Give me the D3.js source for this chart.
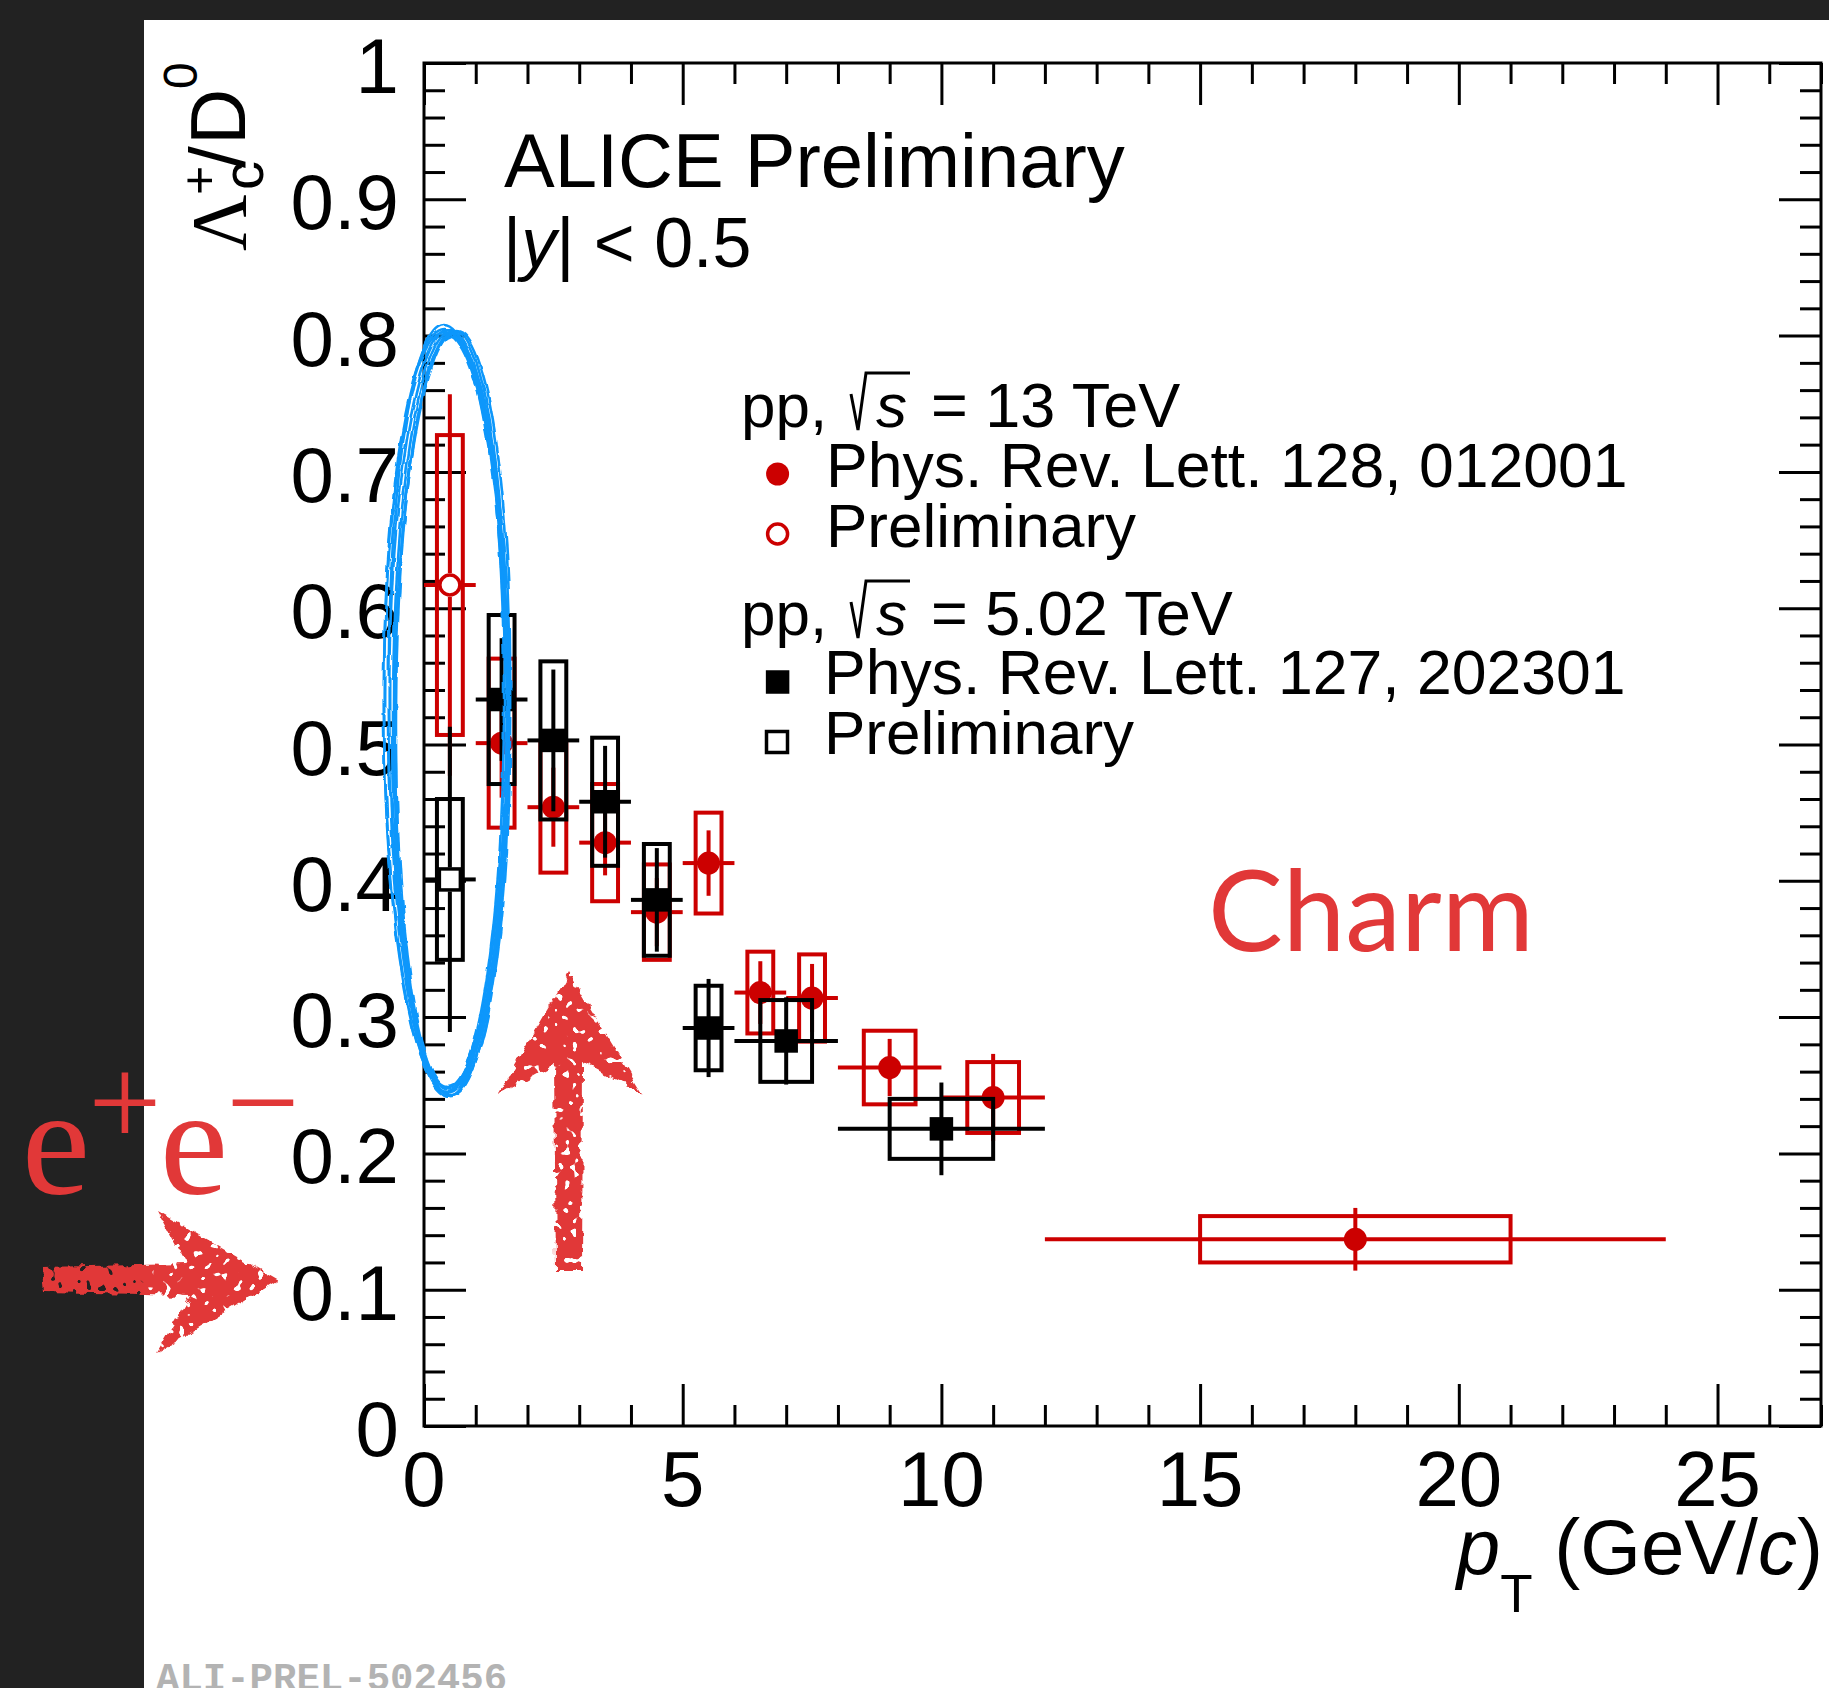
<!DOCTYPE html>
<html>
<head>
<meta charset="utf-8">
<script src="https://cdn.jsdelivr.net/npm/d3@7"></script>
<style>
  html, body { margin: 0; padding: 0; background: #fff; }
  svg { display: block; }
</style>
</head>
<body>
<svg id="chart" width="1829" height="1688"></svg>
<script>
// ---- Λc+/D0 ratio versus pT ----

// pp, √s = 13 TeV, published
const ptPub13    = [1.5, 2.5, 3.5, 4.5, 5.5, 6.5, 7.5, 9, 11, 18];
const binLoPub13 = [1, 2, 3, 4, 5, 6, 7, 8, 10, 12];
const binHiPub13 = [2, 3, 4, 5, 6, 7, 8, 10, 12, 24];
const ratioPub13 = [0.501, 0.454, 0.428, 0.377, 0.413, 0.318, 0.314, 0.263, 0.241, 0.137];
const statPub13  = [0.040, 0.029, 0.024, 0.025, 0.024, 0.023, 0.025, 0.021, 0.032, 0.023];
const systPub13  = [0.062, 0.048, 0.043, 0.035, 0.037, 0.030, 0.032, 0.027, 0.026, 0.017];

// pp, √s = 13 TeV, preliminary
const ptPrel13    = [0.5];
const binLoPrel13 = [0];
const binHiPrel13 = [1];
const ratioPrel13 = [0.617];
const statPrel13  = [0.140];
const systPrel13  = [0.110];

// pp, √s = 5.02 TeV, published
const ptPub5    = [1.5, 2.5, 3.5, 4.5, 5.5, 7, 10];
const binLoPub5 = [1, 2, 3, 4, 5, 6, 8];
const binHiPub5 = [2, 3, 4, 5, 6, 8, 12];
const ratioPub5 = [0.533, 0.503, 0.458, 0.386, 0.292, 0.2825, 0.218];
const statPub5  = [0.045, 0.052, 0.041, 0.038, 0.036, 0.032, 0.034];
const systPub5  = [0.062, 0.058, 0.047, 0.041, 0.031, 0.030, 0.022];

// pp, √s = 5.02 TeV, preliminary
const ptPrel5    = [0.5];
const binLoPrel5 = [0];
const binHiPrel5 = [1];
const ratioPrel5 = [0.401];
const statPrel5  = [0.112];
const systPrel5  = [0.059];

// axis ticks
const xTickValues = [0, 5, 10, 15, 20, 25];
const xTickLabels = ["0", "5", "10", "15", "20", "25"];
const yTickValues = [0, 0.1, 0.2, 0.3, 0.4, 0.5, 0.6, 0.7, 0.8, 0.9, 1];
const yTickLabels = ["0", "0.1", "0.2", "0.3", "0.4", "0.5", "0.6", "0.7", "0.8", "0.9", "1"];

// ---- layout ----
const W = 1829, H = 1688;
const X0 = 424, X1 = 1821, Y0 = 1426, Y1 = 63;
const RED = "#cc0000", BLACK = "#000000", NOTE = "#e13838";
const SANS = "'Liberation Sans', Arial, Helvetica, sans-serif";
const SERIF = "'Liberation Serif', 'Times New Roman', serif";

const x = d3.scaleLinear().domain([0, 27]).range([X0, X1]);
const y = d3.scaleLinear().domain([0, 1]).range([Y0, Y1]);

const svg = d3.select("#chart");

// background and dark page bands
svg.append("rect").attr("width", W).attr("height", H).attr("fill", "#fff");
svg.append("rect").attr("x", 0).attr("y", 0).attr("width", W).attr("height", 20).attr("fill", "#222");
svg.append("rect").attr("x", 0).attr("y", 0).attr("width", 144).attr("height", H).attr("fill", "#222");

const defs = svg.append("defs");
const rough = defs.append("filter").attr("id", "rough")
  .attr("x", "-10%").attr("y", "-10%").attr("width", "120%").attr("height", "120%");
rough.append("feTurbulence").attr("type", "fractalNoise").attr("baseFrequency", 0.09)
  .attr("numOctaves", 2).attr("seed", 4).attr("result", "noise");
rough.append("feDisplacementMap").attr("in", "SourceGraphic").attr("in2", "noise")
  .attr("scale", 10).attr("xChannelSelector", "R").attr("yChannelSelector", "G").attr("result", "disp");
rough.append("feTurbulence").attr("type", "fractalNoise").attr("baseFrequency", 0.14)
  .attr("numOctaves", 1).attr("seed", 11).attr("result", "spk");
rough.append("feColorMatrix").attr("in", "spk").attr("type", "matrix")
  .attr("values", "0 0 0 0 0  0 0 0 0 0  0 0 0 0 0  0 0 0 26 -16.5").attr("result", "holes");
rough.append("feComposite").attr("in", "disp").attr("in2", "holes").attr("operator", "out");

const sketch = defs.append("filter").attr("id", "sketch")
  .attr("x", "-20%").attr("y", "-5%").attr("width", "140%").attr("height", "110%");
sketch.append("feTurbulence").attr("type", "fractalNoise").attr("baseFrequency", 0.05)
  .attr("numOctaves", 2).attr("seed", 2).attr("result", "n2");
sketch.append("feDisplacementMap").attr("in", "SourceGraphic").attr("in2", "n2")
  .attr("scale", 5).attr("xChannelSelector", "R").attr("yChannelSelector", "G");

// ---- axes (ticks on all four sides, pointing inward) ----
const xMinor = d3.range(0, 28, 1).filter(v => v % 5 !== 0);
const yMinor = d3.range(0, 51, 1).map(i => i / 50).filter((v, i) => i % 5 !== 0);

function styleAxis(g) {
  g.select(".domain").remove();
  g.selectAll("line").attr("stroke", BLACK).attr("stroke-width", 3);
}
const axes = svg.append("g");
axes.append("g").attr("transform", `translate(0,${Y0})`)
  .call(d3.axisBottom(x).tickValues(xTickValues).tickSize(-42).tickSizeOuter(0).tickFormat("")).call(styleAxis);
axes.append("g").attr("transform", `translate(0,${Y0})`)
  .call(d3.axisBottom(x).tickValues(xMinor).tickSize(-21).tickSizeOuter(0).tickFormat("")).call(styleAxis);
axes.append("g").attr("transform", `translate(0,${Y1})`)
  .call(d3.axisTop(x).tickValues(xTickValues).tickSize(-42).tickSizeOuter(0).tickFormat("")).call(styleAxis);
axes.append("g").attr("transform", `translate(0,${Y1})`)
  .call(d3.axisTop(x).tickValues(xMinor).tickSize(-21).tickSizeOuter(0).tickFormat("")).call(styleAxis);
axes.append("g").attr("transform", `translate(${X0},0)`)
  .call(d3.axisLeft(y).tickValues(yTickValues).tickSize(-42).tickSizeOuter(0).tickFormat("")).call(styleAxis);
axes.append("g").attr("transform", `translate(${X0},0)`)
  .call(d3.axisLeft(y).tickValues(yMinor).tickSize(-21).tickSizeOuter(0).tickFormat("")).call(styleAxis);
axes.append("g").attr("transform", `translate(${X1},0)`)
  .call(d3.axisRight(y).tickValues(yTickValues).tickSize(-42).tickSizeOuter(0).tickFormat("")).call(styleAxis);
axes.append("g").attr("transform", `translate(${X1},0)`)
  .call(d3.axisRight(y).tickValues(yMinor).tickSize(-21).tickSizeOuter(0).tickFormat("")).call(styleAxis);

// frame
svg.append("rect").attr("x", X0).attr("y", Y1).attr("width", X1 - X0).attr("height", Y0 - Y1)
  .attr("fill", "none").attr("stroke", BLACK).attr("stroke-width", 3);

// tick labels
svg.append("g").selectAll("text").data(xTickValues).join("text")
  .attr("x", d => x(d)).attr("y", 1506).attr("text-anchor", "middle")
  .attr("font-family", SANS).attr("font-size", 78).text((d, i) => xTickLabels[i]);
svg.append("g").selectAll("text").data(yTickValues).join("text")
  .attr("x", 399).attr("y", d => y(d) + 30).attr("text-anchor", "end")
  .attr("font-family", SANS).attr("font-size", 78).text((d, i) => yTickLabels[i]);

// x-axis title
const xt = svg.append("text").attr("x", 1823).attr("y", 1574).attr("text-anchor", "end")
  .attr("font-family", SANS).attr("font-size", 78);
xt.append("tspan").attr("font-style", "italic").text("p");
xt.append("tspan").attr("font-size", 53).attr("dy", 38).text("T");
xt.append("tspan").attr("dy", -38).text(" (GeV/");
xt.append("tspan").attr("font-style", "italic").text("c");
xt.append("tspan").text(")");

// y-axis title, rotated
const yt = svg.append("g").attr("transform", "translate(245,0) rotate(-90)")
  .attr("font-family", SANS);
yt.append("text").attr("x", -251).attr("y", 0).attr("font-family", SERIF).attr("font-size", 78).text("Λ");
yt.append("text").attr("x", -195).attr("y", -29).attr("font-size", 50).text("+");
yt.append("text").attr("x", -190).attr("y", 18).attr("font-size", 58).text("c");
yt.append("text").attr("x", -168).attr("y", 0).attr("font-size", 78).text("/");
yt.append("text").attr("x", -145).attr("y", 0).attr("font-size", 78).text("D");
yt.append("text").attr("x", -89).attr("y", -48).attr("font-size", 48).text("0");

// header texts
svg.append("text").attr("x", 504).attr("y", 187).attr("font-family", SANS).attr("font-size", 76)
  .text("ALICE Preliminary");
const rap = svg.append("text").attr("x", 503).attr("y", 267).attr("font-family", SANS).attr("font-size", 70);
rap.append("tspan").text("|");
rap.append("tspan").attr("font-style", "italic").text("y");
rap.append("tspan").text("| < 0.5");

// ---- data series ----
function makeSeries(pt, lo, hi, val, stat, syst) {
  return pt.map((p, i) => ({ pt: p, lo: lo[i], hi: hi[i], v: val[i], stat: stat[i], syst: syst[i] }));
}
const prel13 = makeSeries(ptPrel13, binLoPrel13, binHiPrel13, ratioPrel13, statPrel13, systPrel13);
const prel5  = makeSeries(ptPrel5, binLoPrel5, binHiPrel5, ratioPrel5, statPrel5, systPrel5);
const pub13  = makeSeries(ptPub13, binLoPub13, binHiPub13, ratioPub13, statPub13, systPub13);
const pub5   = makeSeries(ptPub5, binLoPub5, binHiPub5, ratioPub5, statPub5, systPub5);

const LW = 4;

function drawMarker(g, cx, cy, shape, open, color) {
  if (shape === "circle") {
    g.append("circle").attr("cx", cx).attr("cy", cy).attr("r", open ? 10 : 11.5)
      .attr("fill", open ? "#fff" : color).attr("stroke", open ? color : "none").attr("stroke-width", 3.5);
  } else {
    const s = open ? 21 : 23.5;
    g.append("rect").attr("x", cx - s / 2).attr("y", cy - s / 2).attr("width", s).attr("height", s)
      .attr("fill", open ? "#fff" : color).attr("stroke", open ? color : "none").attr("stroke-width", 3.5);
  }
}

function drawSeries(data, color, shape, open) {
  const g = svg.append("g");
  const gap = open ? 12 : 0;
  data.forEach(d => {
    const hw = (d.hi - d.lo) / 4;
    // systematic box
    g.append("rect")
      .attr("x", x(d.pt - hw)).attr("y", y(d.v + d.syst))
      .attr("width", x(d.pt + hw) - x(d.pt - hw)).attr("height", y(d.v - d.syst) - y(d.v + d.syst))
      .attr("fill", "none").attr("stroke", color).attr("stroke-width", LW);
    const cx = x(d.pt), cy = y(d.v);
    // statistical bar and bin width
    const segs = [
      [cx, y(d.v + d.stat), cx, cy - gap],
      [cx, cy + gap, cx, y(d.v - d.stat)],
      [x(d.lo), cy, cx - gap, cy],
      [cx + gap, cy, x(d.hi), cy]
    ];
    segs.forEach(s => {
      g.append("line").attr("x1", s[0]).attr("y1", s[1]).attr("x2", s[2]).attr("y2", s[3])
        .attr("stroke", color).attr("stroke-width", LW);
    });
    drawMarker(g, cx, cy, shape, open, color);
  });
}

drawSeries(prel13, RED, "circle", true);
drawSeries(prel5, BLACK, "square", true);
drawSeries(pub13, RED, "circle", false);
drawSeries(pub5, BLACK, "square", false);

// ---- legend ----
const leg = svg.append("g").attr("font-family", SANS).attr("font-size", 62);
function sqrtS(yBase, energy) {
  leg.append("text").attr("x", 741).attr("y", yBase).text("pp,");
  leg.append("path")
    .attr("d", `M851,${yBase - 33} L858,${yBase + 3} L866,${yBase - 54} L910,${yBase - 54}`)
    .attr("fill", "none").attr("stroke", BLACK).attr("stroke-width", 3);
  leg.append("text").attr("x", 876).attr("y", yBase).attr("font-style", "italic").text("s");
  leg.append("text").attr("x", 931).attr("y", yBase).attr("font-size", 63).text("= " + energy + " TeV");
}
sqrtS(427, "13");
drawMarker(leg, 777.6, 474, "circle", false, RED);
leg.append("text").attr("x", 826).attr("y", 487).attr("font-size", 62.5).text("Phys. Rev. Lett. 128, 012001");
drawMarker(leg, 777.6, 534, "circle", true, RED);
leg.append("text").attr("x", 826).attr("y", 547).text("Preliminary");
sqrtS(635, "5.02");
drawMarker(leg, 777.6, 682, "square", false, BLACK);
leg.append("text").attr("x", 824).attr("y", 694).attr("font-size", 62.5).text("Phys. Rev. Lett. 127, 202301");
drawMarker(leg, 777, 742, "square", true, BLACK);
leg.append("text").attr("x", 824).attr("y", 754).text("Preliminary");

// ---- annotations ----
svg.append("text").attr("x", 1208).attr("y", 951).attr("font-family", "Lato, 'Open Sans', sans-serif")
  .attr("font-size", 112).attr("fill", NOTE).text("Charm");

const ee = svg.append("g").attr("font-family", SERIF).attr("fill", NOTE);
ee.append("text").attr("x", 56).attr("y", 1193).attr("text-anchor", "middle").attr("font-size", 154).text("e");
ee.append("text").attr("x", 125).attr("y", 1146).attr("text-anchor", "middle").attr("font-size", 130).text("+");
ee.append("text").attr("x", 194).attr("y", 1193).attr("text-anchor", "middle").attr("font-size", 154).text("e");
ee.append("text").attr("x", 263).attr("y", 1146).attr("text-anchor", "middle").attr("font-size", 130).text("−");

// hand-drawn loop around the lowest bin
const loop = svg.append("g").attr("fill", "none").attr("stroke", "#0a97fb")
  .attr("stroke-width", 2.6).attr("filter", "url(#sketch)");
const loopStrokes = [
  [449, 711, 60, 381, 0], [451, 709, 56, 378, 0.5], [447, 713, 63, 383, -0.4],
  [450, 712, 54, 376, 0.3], [448, 710, 59, 385, -0.6], [452, 711, 58, 380, 0.7],
  [446, 712, 62, 379, -0.2], [450, 714, 57, 382, 0.1]
];
loopStrokes.forEach(e => {
  loop.append("ellipse").attr("cx", e[0]).attr("cy", e[1]).attr("rx", e[2]).attr("ry", e[3])
    .attr("transform", `rotate(${e[4]},${e[0]},${e[1]})`);
});

// hand-drawn arrows
const arrows = svg.append("g").attr("fill", NOTE).attr("filter", "url(#rough)");
arrows.append("path")
  .attr("d", "M42,1267 L186,1264 L157,1210 L279,1280 L157,1353 L190,1296 L44,1293 Z");
arrows.append("path")
  .attr("d", "M569,973 L643,1095 L583,1062 L582,1271 L556,1271 L554,1064 L498,1095 Z");

// figure identifier
svg.append("text").attr("x", 156).attr("y", 1690)
  .attr("font-family", "'Liberation Mono', 'Courier New', monospace").attr("font-weight", "bold")
  .attr("font-size", 39).attr("fill", "#b3b3b3").text("ALI-PREL-502456");
</script>
</body>
</html>
